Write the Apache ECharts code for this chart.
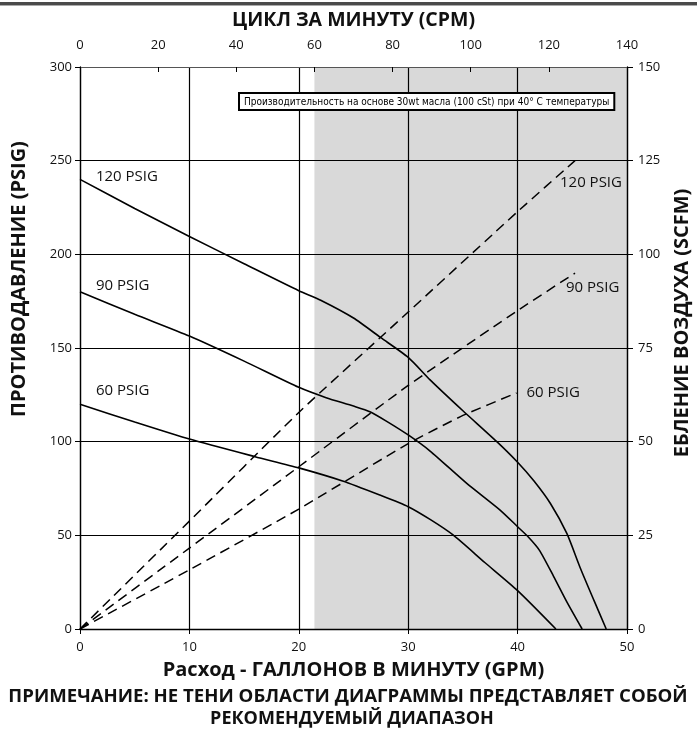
<!DOCTYPE html>
<html><head><meta charset="utf-8">
<script src="https://cdn.jsdelivr.net/npm/echarts@6/dist/echarts.min.js"></script>
<style>html,body{margin:0;padding:0;background:#fff}#c{width:697px;height:733px}</style>
</head><body><div id="c"></div>
<script>
// ---- Data ----
// Flow in GPM, discharge pressure in PSIG
const pressure120 = [[0,240],[5,224.5],[10,209.5],[15,195],[20,180.6],[22,175.5],[25,166],[27.5,155.5],[30,145],[32,133],[35,116.5],[38.1,100],[40,89],[41.5,79],[43,67],[44.5,51],[45.7,33],[47,15],[48.1,0]];
const pressure90  = [[0,180],[5,168],[10,156.4],[15,143],[20,129],[22.5,123.5],[25,119],[26.5,116],[28,111],[30,103.6],[32,95],[35.3,78],[38.4,63.5],[40,54.6],[41,49],[42,42],[43.3,28],[44.5,14.5],[45.9,0]];
const pressure60  = [[0,120],[5,110.5],[10,101.4],[16,92],[20,86],[24,79],[27.4,71.5],[30,65.3],[32,58.5],[34.1,50.2],[37,35.5],[40,20.5],[43.5,0]];
// Air consumption in SCFM (right axis)
const air120 = [[0,0],[10,28.8],[20,57.8],[30,84.6],[40,111.4],[45.25,125]];
const air90  = [[0,0],[10,21.6],[20,43.3],[30,65],[40,85],[45.25,95]];
const air60  = [[0,0],[10,15.8],[20,32],[30,49.5],[35,57],[39.9,63]];
// Shaded (non-recommended) range in CPM
const shadeCpm = [60, 140];
// Labels
const seriesLabels = ['120 PSIG','90 PSIG','60 PSIG'];
const titleTop = 'ЦИКЛ ЗА МИНУТУ (CPM)';
const titleBottom = 'Расход - ГАЛЛОНОВ В МИНУТУ (GPM)';
const titleLeft = 'ПРОТИВОДАВЛЕНИЕ (PSIG)';
const titleRight = 'ЕБЛЕНИЕ ВОЗДУХА (SCFM)';
const noteText = 'Производительность на основе 30wt масла (100 cSt) при 40° C температуры';
const footLine1 = 'ПРИМЕЧАНИЕ: НЕ ТЕНИ ОБЛАСТИ ДИАГРАММЫ ПРЕДСТАВЛЯЕТ СОБОЙ';
const footLine2 = 'РЕКОМЕНДУЕМЫЙ ДИАПАЗОН';

const FONT = '"Open Sans", "Noto Sans", sans-serif';
const labelStyle = {fontFamily: FONT, fontSize: 15, color: '#111'};

function withStartLabel(data, text, pos) {
  return data.map((p, i) => i === 0 ? {value: p, label: Object.assign({show: true, formatter: text, position: pos, align: 'left', verticalAlign: 'middle'}, labelStyle)} : p);
}
function withEndLabel(data, text, pos) {
  return data.map((p, i) => i === data.length - 1 ? {value: p, label: Object.assign({show: true, formatter: text, position: pos, align: 'left', verticalAlign: 'middle'}, labelStyle)} : p);
}

const chart = echarts.init(document.getElementById('c'), null, {renderer: 'canvas'});
const axisLbl = {fontFamily: FONT, fontSize: 13, color: '#111'};
const nameStyle = {fontFamily: FONT, fontSize: 20, fontWeight: 'bold', color: '#111'};

const solidBase = {type: 'line', xAxisIndex: 0, yAxisIndex: 0, smooth: 0.22, symbol: 'circle', symbolSize: 0.1, showSymbol: true, showAllSymbol: true,
  lineStyle: {color: '#000', width: 1.6}, itemStyle: {color: '#000'}, emphasis: {disabled: true}, silent: true, z: 3};
const dashBase = {type: 'line', xAxisIndex: 0, yAxisIndex: 1, smooth: 0.15, symbol: 'circle', symbolSize: 0.1, showSymbol: true, showAllSymbol: true,
  lineStyle: {color: '#000', width: 1.5, type: [10, 6]}, itemStyle: {color: '#000'}, emphasis: {disabled: true}, silent: true, z: 3};

chart.setOption({
  animation: false,
  grid: {left: 80, right: 70, top: 67, bottom: 104},
  xAxis: [
    {type: 'value', position: 'bottom', min: 0, max: 50, interval: 10,
     name: titleBottom, nameLocation: 'middle', nameGap: 31, nameTextStyle: nameStyle,
     axisLine: {show: true, onZero: false, lineStyle: {color: '#000', width: 1.3}},
     axisTick: {show: true, inside: false, length: 5, lineStyle: {color: '#000'}},
     axisLabel: Object.assign({margin: 12}, axisLbl),
     splitLine: {show: true, lineStyle: {color: '#000', width: 1.2}}},
    {type: 'value', position: 'top', min: 0, max: 140, interval: 20,
     name: titleTop, nameLocation: 'middle', nameGap: 37, nameTextStyle: Object.assign({}, nameStyle, {fontSize: 19.5}),
     axisLine: {show: true, onZero: false, lineStyle: {color: '#555', width: 1.2}},
     axisTick: {show: true, inside: true, length: 5, lineStyle: {color: '#000'}},
     axisLabel: Object.assign({margin: 15}, axisLbl),
     splitLine: {show: false}}
  ],
  yAxis: [
    {type: 'value', position: 'left', min: 0, max: 300, interval: 50,
     axisLine: {show: true, onZero: false, lineStyle: {color: '#000', width: 1.3}},
     axisTick: {show: true, inside: false, length: 5, lineStyle: {color: '#000'}},
     axisLabel: Object.assign({margin: 8}, axisLbl),
     splitLine: {show: true, lineStyle: {color: '#000', width: 1.2}}},
    {type: 'value', position: 'right', min: 0, max: 150, interval: 25,
     axisLine: {show: true, onZero: false, lineStyle: {color: '#000', width: 1.3}},
     axisTick: {show: true, inside: false, length: 6, lineStyle: {color: '#000'}},
     axisLabel: Object.assign({margin: 11}, axisLbl),
     splitLine: {show: false}}
  ],
  series: [
    {type: 'line', xAxisIndex: 1, yAxisIndex: 0, data: [], silent: true, z: -1,
     markArea: {silent: true, z: -1, itemStyle: {color: '#d9d9d9'}, data: [[{xAxis: shadeCpm[0]}, {xAxis: shadeCpm[1]}]]}},
    Object.assign({}, solidBase, {name: 'p120', data: withStartLabel(pressure120, seriesLabels[0], [16, -3])}),
    Object.assign({}, solidBase, {name: 'p90', data: withStartLabel(pressure90, seriesLabels[1], [16, -6])}),
    Object.assign({}, solidBase, {name: 'p60', data: withStartLabel(pressure60, seriesLabels[2], [16, -13])}),
    Object.assign({}, dashBase, {name: 'a120', data: withEndLabel(air120, seriesLabels[0], [-15, 22])}),
    Object.assign({}, dashBase, {name: 'a90', data: withEndLabel(air90, seriesLabels[1], [-9, 15])}),
    Object.assign({}, dashBase, {name: 'a60', data: withEndLabel(air60, seriesLabels[2], [10, 0])})
  ],
  graphic: [
    {type: 'rect', left: 0, top: 2, shape: {width: 697, height: 3}, style: {fill: '#4a4a4a'}, silent: true},
    {type: 'rect', left: 0, top: 5, shape: {width: 697, height: 1}, style: {fill: '#aaa'}, silent: true},
    {type: 'text', left: 238, top: 92, z: 10, silent: true,
     style: {text: noteText, font: '10px "Liberation Sans Narrow", "DejaVu Sans Condensed", sans-serif', fill: '#000',
             backgroundColor: '#fff', borderColor: '#000', borderWidth: 2, padding: [3, 4, 2, 4]}},
    {type: 'text', x: 19, y: 279, rotation: Math.PI / 2, silent: true,
     style: {text: titleLeft, font: 'bold 20px ' + FONT, fill: '#111', textAlign: 'center', textVerticalAlign: 'middle'}},
    {type: 'text', x: 682, y: 323, rotation: Math.PI / 2, silent: true,
     style: {text: titleRight, font: 'bold 20px ' + FONT, fill: '#111', textAlign: 'center', textVerticalAlign: 'middle'}},
    {type: 'text', x: 348, y: 697, silent: true,
     style: {text: footLine1, font: 'bold 18.6px ' + FONT, fill: '#111', textAlign: 'center', textVerticalAlign: 'middle'}},
    {type: 'text', x: 352, y: 719, silent: true,
     style: {text: footLine2, font: 'bold 18px ' + FONT, fill: '#111', textAlign: 'center', textVerticalAlign: 'middle'}}
  ]
});
</script></body></html>
